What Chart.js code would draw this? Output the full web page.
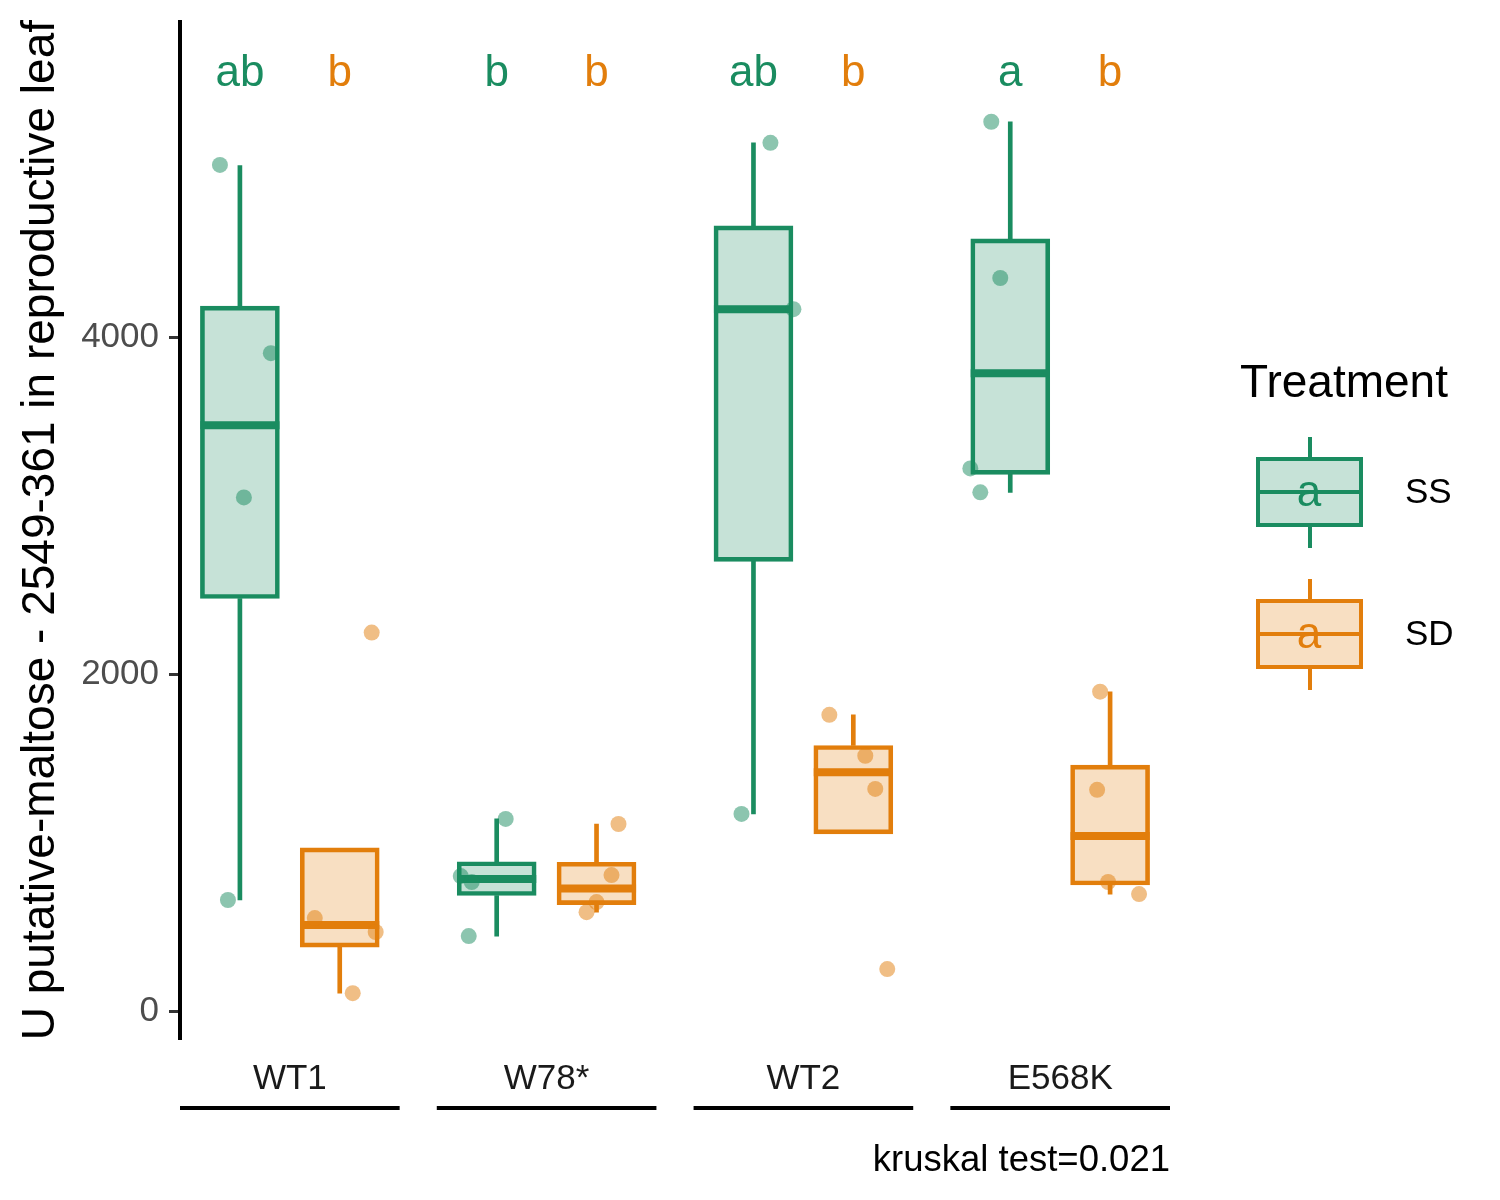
<!DOCTYPE html>
<html>
<head>
<meta charset="utf-8">
<title>Maltosa en hoja reproductiva</title>
<script src="https://cdn.jsdelivr.net/npm/chart.js@4.4.1/dist/chart.umd.min.js"></script>
<style>
  body { margin: 0; background: #ffffff; }
  #grafica { display: block; }
</style>
</head>
<body>
<canvas id="grafica" width="1500" height="1200"></canvas>
<script>
// Datos (cajas por genotipo y tratamiento)
const genotipos = ['WT1', 'W78*', 'WT2', 'E568K'];
const tratamientos = ['SS', 'SD'];
const colores = ['#1a8c60', '#e27e0c'];

// Estadísticos de las cajas, tratamiento SS
const bigoteInfSS = [660, 446, 1171, 3079];
const q1SS = [2449, 687, 2669, 3186];
const medianaSS = [3477, 785, 4166, 3786];
const q3SS = [4184, 887, 4660, 4583];
const bigoteSupSS = [5018, 1141, 5153, 5278];

// Estadísticos de las cajas, tratamiento SD
const bigoteInfSD = [107, 588, 1052, 695];
const q1SD = [380, 633, 1052, 749];
const medianaSD = [511, 728, 1418, 1040];
const q3SD = [969, 884, 1577, 1460];
const bigoteSupSD = [969, 1111, 1759, 1896];

// Observaciones individuales y su desplazamiento horizontal (jitter)
const puntosSS = [[5022, 3905, 3049, 660], [1141, 802, 767, 446], [5153, 4166, 1171], [5278, 4351, 3221, 3079]];
const jitterSS = [[-0.20, 0.31, 0.04, -0.12], [0.09, -0.36, -0.25, -0.28], [0.17, 0.40, -0.12], [-0.19, -0.10, -0.40, -0.30]];
const puntosSD = [[2247, 553, 470, 107], [1111, 808, 648, 588], [1759, 1516, 1319, 250], [1896, 1314, 767, 695]];
const jitterSD = [[0.32, -0.25, 0.36, 0.13], [0.22, 0.15, 0.00, -0.10], [-0.24, 0.12, 0.22, 0.34], [-0.10, -0.13, -0.02, 0.29]];

// Letras de significancia
const letrasSS = ['ab', 'b', 'ab', 'a'];
const letrasSD = ['b', 'b', 'b', 'b'];
const alturaLetras = 5560;

const marcasY = [0, 2000, 4000];
const tituloY = 'U putative-maltose - 2549-361 in reproductive leaf';
const textoPrueba = 'kruskal test=0.021';

// Geometría de los paneles (unidades del eje x)
const ANCHO_PANEL = 2.2;
const PASO_PANEL = 2.572;
const MEDIA_CAJA = 0.396;
const FUENTE = "'Liberation Sans', Arial, Helvetica, sans-serif";

function posicion(g, t) {
    return g * PASO_PANEL + 0.6 + t;
}

function conAlfa(hex, a) {
    const r = parseInt(hex.slice(1, 3), 16);
    const g = parseInt(hex.slice(3, 5), 16);
    const b = parseInt(hex.slice(5, 7), 16);
    return `rgba(${r}, ${g}, ${b}, ${a})`;
}

// Construye los datasets de un tratamiento
function datasetsTratamiento(t, inf, q1, med, q3, sup, puntos, jitter) {
    const color = colores[t];
    const bigotes = [];
    const cajas = [];
    const medianas = [];
    const obs = [];
    genotipos.forEach((g, i) => {
        const x = posicion(i, t);
        if (sup[i] > q3[i]) bigotes.push({ x: x, y: [q3[i], sup[i]] });
        if (inf[i] < q1[i]) bigotes.push({ x: x, y: [inf[i], q1[i]] });
        cajas.push({ x: x, y: [q1[i], q3[i]] });
        medianas.push({ x: x - MEDIA_CAJA, y: med[i] });
        medianas.push({ x: x + MEDIA_CAJA, y: med[i] });
        medianas.push({ x: x + MEDIA_CAJA, y: null });
        puntos[i].forEach((v, k) => obs.push({ x: x + jitter[i][k], y: v }));
    });
    return [
        {
            type: 'bar', label: tratamientos[t] + ' bigotes', data: bigotes, stack: 'caja',
            backgroundColor: color, borderWidth: 0, barThickness: 4, order: 4
        },
        {
            type: 'bar', label: tratamientos[t], data: cajas, stack: 'caja',
            backgroundColor: conAlfa(color, 0.25), borderColor: color, borderWidth: 4,
            borderSkipped: false, barThickness: 79, order: 3
        },
        {
            type: 'line', label: tratamientos[t] + ' mediana', data: medianas,
            borderColor: color, borderWidth: 8, pointRadius: 0, spanGaps: false,
            borderCapStyle: 'butt', order: 2
        },
        {
            type: 'scatter', label: tratamientos[t] + ' puntos', data: obs,
            backgroundColor: conAlfa(color, 0.5), borderWidth: 0, pointRadius: 8,
            pointHoverRadius: 8, order: 1
        }
    ];
}

// Plugin para letras, líneas de panel y leyenda
const extras = {
    id: 'extras',
    afterDatasetsDraw(chart) {
        const ctx = chart.ctx;
        const xs = chart.scales.x;
        const ys = chart.scales.y;
        ctx.save();
        ctx.font = `44px ${FUENTE}`;
        ctx.textAlign = 'center';
        ctx.textBaseline = 'middle';
        const yl = ys.getPixelForValue(alturaLetras);
        genotipos.forEach((g, i) => {
            ctx.fillStyle = colores[0];
            ctx.fillText(letrasSS[i], xs.getPixelForValue(posicion(i, 0)), yl);
            ctx.fillStyle = colores[1];
            ctx.fillText(letrasSD[i], xs.getPixelForValue(posicion(i, 1)), yl);
        });
        ctx.restore();
    },
    afterDraw(chart) {
        const ctx = chart.ctx;
        const xs = chart.scales.x;
        ctx.save();
        // líneas bajo las etiquetas de panel
        ctx.strokeStyle = '#000';
        ctx.lineWidth = 4;
        genotipos.forEach((g, i) => {
            ctx.beginPath();
            ctx.moveTo(xs.getPixelForValue(i * PASO_PANEL), 1108);
            ctx.lineTo(xs.getPixelForValue(i * PASO_PANEL + ANCHO_PANEL), 1108);
            ctx.stroke();
        });

        // leyenda
        ctx.fillStyle = '#000';
        ctx.font = `46px ${FUENTE}`;
        ctx.textAlign = 'left';
        ctx.textBaseline = 'alphabetic';
        ctx.fillText('Treatment', 1240, 397);
        tratamientos.forEach((t, k) => {
            const yc = 492 + k * 142;
            const c = colores[k];
            ctx.lineWidth = 4;
            ctx.strokeStyle = c;
            ctx.beginPath();
            ctx.moveTo(1310, yc - 55); ctx.lineTo(1310, yc + 56);
            ctx.stroke();
            ctx.fillStyle = '#ffffff';
            ctx.fillRect(1258, yc - 33, 103, 66);
            ctx.fillStyle = conAlfa(c, 0.25);
            ctx.fillRect(1258, yc - 33, 103, 66);
            ctx.strokeRect(1258, yc - 33, 103, 66);
            ctx.beginPath();
            ctx.moveTo(1258, yc); ctx.lineTo(1361, yc);
            ctx.stroke();
            ctx.fillStyle = c;
            ctx.font = `44px ${FUENTE}`;
            ctx.textAlign = 'center';
            ctx.textBaseline = 'middle';
            ctx.fillText('a', 1309, yc + 2);
            ctx.fillStyle = '#000';
            ctx.font = `35px ${FUENTE}`;
            ctx.textAlign = 'left';
            ctx.fillText(t, 1405, yc + 1);
        });
        ctx.restore();
    }
};

const datos = [].concat(
    datasetsTratamiento(0, bigoteInfSS, q1SS, medianaSS, q3SS, bigoteSupSS, puntosSS, jitterSS),
    datasetsTratamiento(1, bigoteInfSD, q1SD, medianaSD, q3SD, bigoteSupSD, puntosSD, jitterSD)
);

new Chart(document.getElementById('grafica').getContext('2d'), {
    type: 'bar',
    data: { datasets: datos },
    options: {
        responsive: false,
        animation: false,
        devicePixelRatio: 1,
        layout: { padding: { top: 22, right: 330, left: 0, bottom: 0 } },
        plugins: {
            legend: { display: false },
            tooltip: { enabled: false },
            title: {
                display: true, text: textoPrueba, position: 'bottom', align: 'end', fullSize: false,
                color: '#000', font: { size: 36.5, family: FUENTE, weight: 'normal' },
                padding: { top: 21, bottom: 17 }
            }
        },
        scales: {
            x: {
                type: 'linear', offset: false, min: 0, max: 3 * PASO_PANEL + ANCHO_PANEL,
                afterBuildTicks: s => { s.ticks = genotipos.map((g, i) => ({ value: i * PASO_PANEL + ANCHO_PANEL / 2 })); },
                afterFit: s => { s.height = 80; },
                grid: { display: false },
                border: { display: false },
                ticks: {
                    callback: (v, i) => genotipos[i], autoSkip: false, maxRotation: 0,
                    color: '#1a1a1a', font: { size: 35, family: FUENTE }, padding: 12
                }
            },
            y: {
                min: -160, max: 5870, stacked: false,
                afterBuildTicks: s => { s.ticks = marcasY.map(v => ({ value: v })); },
                afterFit: s => { s.width = 180; },
                grid: { drawOnChartArea: false, drawTicks: true, tickLength: 11, color: '#333333', lineWidth: 3 },
                border: { display: true, color: '#000', width: 4 },
                ticks: {
                    color: '#4d4d4d', font: { size: 35, family: FUENTE, lineHeight: 0.6 },
                    padding: 10, callback: v => String(v)
                },
                title: {
                    display: true, text: tituloY, color: '#000',
                    font: { size: 46, family: FUENTE }, padding: { top: 14, bottom: 0 }
                }
            }
        }
    },
    plugins: [extras]
});
</script>
</body>
</html>
